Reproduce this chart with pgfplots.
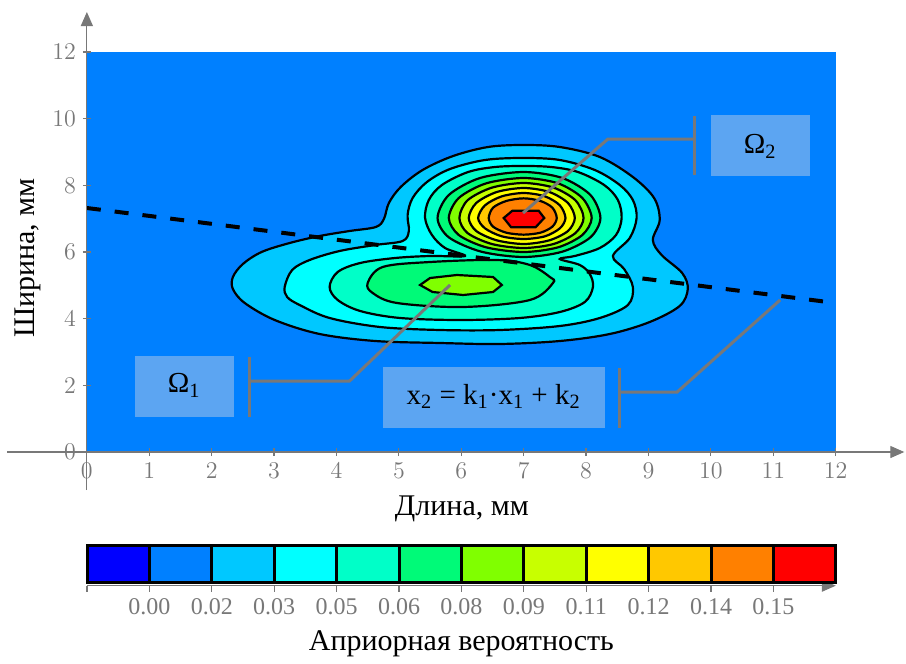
\documentclass[border=0pt]{standalone}
\usepackage{pgfplots}
\pgfplotsset{compat=1.18}
\usepackage{fontspec}
\setmainfont{Liberation Serif}
\usetikzlibrary{arrows.meta}
\definecolor{bg}{RGB}{0,128,255}
\definecolor{c0}{RGB}{0,0,255}
\definecolor{c1}{RGB}{0,200,255}
\definecolor{c2}{RGB}{0,255,255}
\definecolor{c3}{RGB}{0,255,200}
\definecolor{c4}{RGB}{0,250,120}
\definecolor{c5}{RGB}{128,255,0}
\definecolor{c6}{RGB}{200,255,0}
\definecolor{c7}{RGB}{255,255,0}
\definecolor{c8}{RGB}{255,200,0}
\definecolor{c9}{RGB}{255,128,0}
\definecolor{c10}{RGB}{255,0,0}
\definecolor{boxc}{RGB}{92,165,242}
\definecolor{tickgray}{RGB}{120,120,120}
\begin{document}
\begin{tikzpicture}
\begin{axis}[
  at={(0pt,0pt)}, anchor=south west,
  scale only axis, width=448.656pt, height=239pt,
  xmin=-1.28, xmax=13.1, ymin=-1.14, ymax=13.2,
  axis lines=middle,
  axis line style={tickgray, line width=0.6pt, -{Triangle[length=7pt,width=6pt]}},
  xtick={0,...,12}, ytick={0,2,...,12},
  tick align=center, major tick length=4pt,
  tick style={tickgray, line width=0.6pt},
  tick label style={font=\fontsize{12}{14}\selectfont, text=tickgray},
  hide obscured x ticks=false, hide obscured y ticks=false,
  axis on top, clip=false,
]
\addplot[fill=bg, draw=none] coordinates {(0,0) (12,0) (12,12) (0,12)} -- cycle;
% level 1 (merged)
\addplot[fill=c1, draw=black, line width=1.1pt, smooth cycle, tension=0.55] coordinates {
(2.34,5.25) (2.50,5.64) (2.80,6.00) (3.25,6.27) (3.73,6.48) (4.21,6.63) (4.63,6.75)
(4.76,6.99) (4.84,7.47) (5.03,7.95) (5.38,8.46) (5.87,8.88) (6.43,9.15) (6.99,9.21)
(7.58,9.15) (8.22,8.85) (8.75,8.25) (9.09,7.62) (9.18,6.96) (9.07,6.36) (9.21,5.91)
(9.54,5.37) (9.63,4.89) (9.50,4.38) (9.02,3.90) (8.38,3.54) (7.58,3.33) (6.62,3.24)
(5.66,3.27) (4.62,3.33) (3.73,3.54) (3.01,3.96) (2.53,4.47) (2.34,4.89)};
% level 2 (merged)
\addplot[fill=c2, draw=black, line width=1.1pt, smooth cycle, tension=0.55] coordinates {
(3.17,4.95) (3.29,5.46) (3.57,5.76) (4.05,6.03) (4.62,6.21) (5.06,6.33) (5.16,6.63)
(5.14,7.11) (5.22,7.62) (5.45,8.10) (5.82,8.49) (6.38,8.76) (6.99,8.82) (7.58,8.76)
(8.14,8.46) (8.54,8.01) (8.75,7.56) (8.81,7.02) (8.70,6.42) (8.43,5.88) (8.61,5.49)
(8.75,4.95) (8.67,4.41) (8.22,4.02) (7.58,3.78) (6.62,3.66) (5.66,3.66) (4.70,3.75)
(3.89,4.02) (3.41,4.41) (3.21,4.65)};
% level 3 (merged)
\addplot[fill=c3, draw=black, line width=1.1pt, smooth cycle, tension=0.55] coordinates {
(3.89,4.95) (4.02,5.40) (4.38,5.67) (4.94,5.82) (5.50,5.88) (6.06,5.88) (5.74,6.12)
(5.53,6.51) (5.42,7.02) (5.48,7.56) (5.69,8.01) (6.11,8.40) (6.54,8.55) (6.99,8.58)
(7.44,8.55) (7.87,8.40) (8.29,8.01) (8.51,7.56) (8.57,7.02) (8.48,6.51) (8.22,6.12)
(7.82,5.88) (7.58,5.79) (7.90,5.61) (8.06,5.34) (8.11,4.95) (7.98,4.50) (7.58,4.20)
(6.94,4.02) (5.99,3.96) (5.02,4.02) (4.38,4.23) (4.02,4.56)};
% lower peak
\addplot[fill=c4, draw=black, line width=1.1pt, smooth cycle, tension=0.55] coordinates {
(4.50,5.07) (4.74,5.55) (5.50,5.70) (6.57,5.76) (7.10,5.61) (7.42,5.25) (7.47,5.07)
(7.10,4.56) (6.03,4.35) (4.97,4.47) (4.58,4.77)};
\addplot[fill=c5, draw=black, line width=1.1pt] coordinates {
(5.34,5.01) (5.50,5.22) (5.93,5.31) (6.51,5.25) (6.65,5.01) (6.51,4.80) (6.03,4.71) (5.54,4.80)} -- cycle;
% upper peak
\addplot[fill=c4, draw=black, line width=1.1pt, smooth cycle] coordinates {
(8.23,7.02) (8.07,7.71) (7.62,8.22) (7.00,8.40) (6.30,8.22) (5.80,7.71) (5.62,7.02)
(5.80,6.44) (6.32,6.01) (7.00,5.85) (7.62,6.01) (8.07,6.44)};
\addplot[fill=c5, draw=black, line width=1.1pt, smooth cycle] coordinates {
(8.09,7.02) (7.94,7.62) (7.55,8.06) (7.00,8.22) (6.40,8.06) (5.96,7.62) (5.80,7.02)
(5.96,6.51) (6.40,6.14) (7.00,6.00) (7.55,6.14) (7.94,6.51)};
\addplot[fill=c6, draw=black, line width=1.1pt, smooth cycle] coordinates {
(7.96,7.02) (7.83,7.55) (7.48,7.93) (7.00,8.07) (6.49,7.93) (6.10,7.55) (5.97,7.02)
(6.10,6.57) (6.49,6.24) (7.00,6.12) (7.48,6.24) (7.83,6.57)};
\addplot[fill=c7, draw=black, line width=1.1pt, smooth cycle] coordinates {
(7.82,7.02) (7.71,7.47) (7.41,7.80) (7.00,7.92) (6.57,7.80) (6.24,7.47) (6.12,7.02)
(6.24,6.63) (6.57,6.35) (7.00,6.24) (7.41,6.35) (7.71,6.63)};
\addplot[fill=c8, draw=black, line width=1.1pt, smooth cycle] coordinates {
(7.67,7.02) (7.58,7.40) (7.34,7.67) (7.00,7.77) (6.65,7.67) (6.38,7.40) (6.27,7.02)
(6.38,6.71) (6.65,6.47) (7.00,6.39) (7.34,6.47) (7.58,6.71)};
\addplot[fill=c9, draw=black, line width=1.1pt, smooth cycle] coordinates {
(7.53,7.02) (7.46,7.33) (7.27,7.53) (7.00,7.61) (6.72,7.53) (6.51,7.33) (6.44,7.02)
(6.51,6.76) (6.72,6.58) (7.00,6.52) (7.27,6.58) (7.46,6.76)};
\addplot[fill=c10, draw=black, line width=1.1pt] coordinates {
(6.82,7.24) (7.24,7.24) (7.33,7.02) (7.19,6.74) (6.80,6.74) (6.68,7.02)} -- cycle;
% separating line
\addplot[black, line width=2pt, dash pattern=on 7pt off 7pt] coordinates {(0,7.32) (12,4.47)};
% annotations
\draw[tickgray, line width=1.5pt] (9.74,10.08) -- (9.74,8.31);
\draw[tickgray, line width=1.5pt] (9.74,9.39) -- (8.35,9.39) -- (6.99,7.17);
\fill[boxc] (10.0,8.28) rectangle (11.59,10.11);
\node[font=\fontsize{14.5}{16}\selectfont] at (10.79,9.17) {Ω\textsubscript{2}};
\draw[tickgray, line width=1.5pt] (2.60,2.85) -- (2.60,1.05);
\draw[tickgray, line width=1.5pt] (2.60,2.13) -- (4.21,2.13) -- (5.82,5.01);
\fill[boxc] (0.77,1.05) rectangle (2.36,2.88);
\node[font=\fontsize{14.5}{16}\selectfont] at (1.56,2.0) {Ω\textsubscript{1}};
\draw[tickgray, line width=1.5pt] (8.54,2.52) -- (8.54,0.72);
\draw[tickgray, line width=1.5pt] (8.54,1.80) -- (9.46,1.80) -- (11.11,4.56);
\fill[boxc] (4.74,0.72) rectangle (8.30,2.55);
\node[font=\fontsize{14.5}{16}\selectfont] at (6.52,1.66) {x\textsubscript{2} = k\textsubscript{1}·x\textsubscript{1} + k\textsubscript{2}};
% axis labels
\node[rotate=90, font=\fontsize{15}{18}\selectfont] at (-0.95,5.82) {Ширина, мм};
\node[font=\fontsize{15}{18}\selectfont] at (6.01,-1.72) {Длина, мм};
\end{axis}
\begin{axis}[
  at={(40pt,-47.85pt)}, anchor=south west,
  scale only axis, width=374.4pt, height=20.35pt,
  xmin=0, xmax=12, ymin=-0.1, ymax=1,
  axis x line=bottom, axis y line=none,
  axis line style={tickgray, line width=0.6pt, -{Triangle[length=7pt,width=6pt]}},
  xtick={0,...,11},
  xticklabels={,0.00,0.02,0.03,0.05,0.06,0.08,0.09,0.11,0.12,0.14,0.15},
  tick align=outside, major tick length=3pt,
  tick style={tickgray, line width=0.6pt},
  tick label style={font=\fontsize{12}{14}\selectfont, text=tickgray},
  xlabel={Априорная вероятность},
  xlabel style={font=\fontsize{15}{18}\selectfont, yshift=-1pt},
  clip=false,
]
\addplot[fill=c0, draw=black, line width=1.5pt] coordinates {(0,0) (1,0) (1,1) (0,1)} -- cycle;
\addplot[fill=bg, draw=black, line width=1.5pt] coordinates {(1,0) (2,0) (2,1) (1,1)} -- cycle;
\addplot[fill=c1, draw=black, line width=1.5pt] coordinates {(2,0) (3,0) (3,1) (2,1)} -- cycle;
\addplot[fill=c2, draw=black, line width=1.5pt] coordinates {(3,0) (4,0) (4,1) (3,1)} -- cycle;
\addplot[fill=c3, draw=black, line width=1.5pt] coordinates {(4,0) (5,0) (5,1) (4,1)} -- cycle;
\addplot[fill=c4, draw=black, line width=1.5pt] coordinates {(5,0) (6,0) (6,1) (5,1)} -- cycle;
\addplot[fill=c5, draw=black, line width=1.5pt] coordinates {(6,0) (7,0) (7,1) (6,1)} -- cycle;
\addplot[fill=c6, draw=black, line width=1.5pt] coordinates {(7,0) (8,0) (8,1) (7,1)} -- cycle;
\addplot[fill=c7, draw=black, line width=1.5pt] coordinates {(8,0) (9,0) (9,1) (8,1)} -- cycle;
\addplot[fill=c8, draw=black, line width=1.5pt] coordinates {(9,0) (10,0) (10,1) (9,1)} -- cycle;
\addplot[fill=c9, draw=black, line width=1.5pt] coordinates {(10,0) (11,0) (11,1) (10,1)} -- cycle;
\addplot[fill=c10, draw=black, line width=1.5pt] coordinates {(11,0) (12,0) (12,1) (11,1)} -- cycle;
\end{axis}
\path (-3.5pt,-80pt) rectangle (449.5pt,245pt);
\end{tikzpicture}
\end{document}
